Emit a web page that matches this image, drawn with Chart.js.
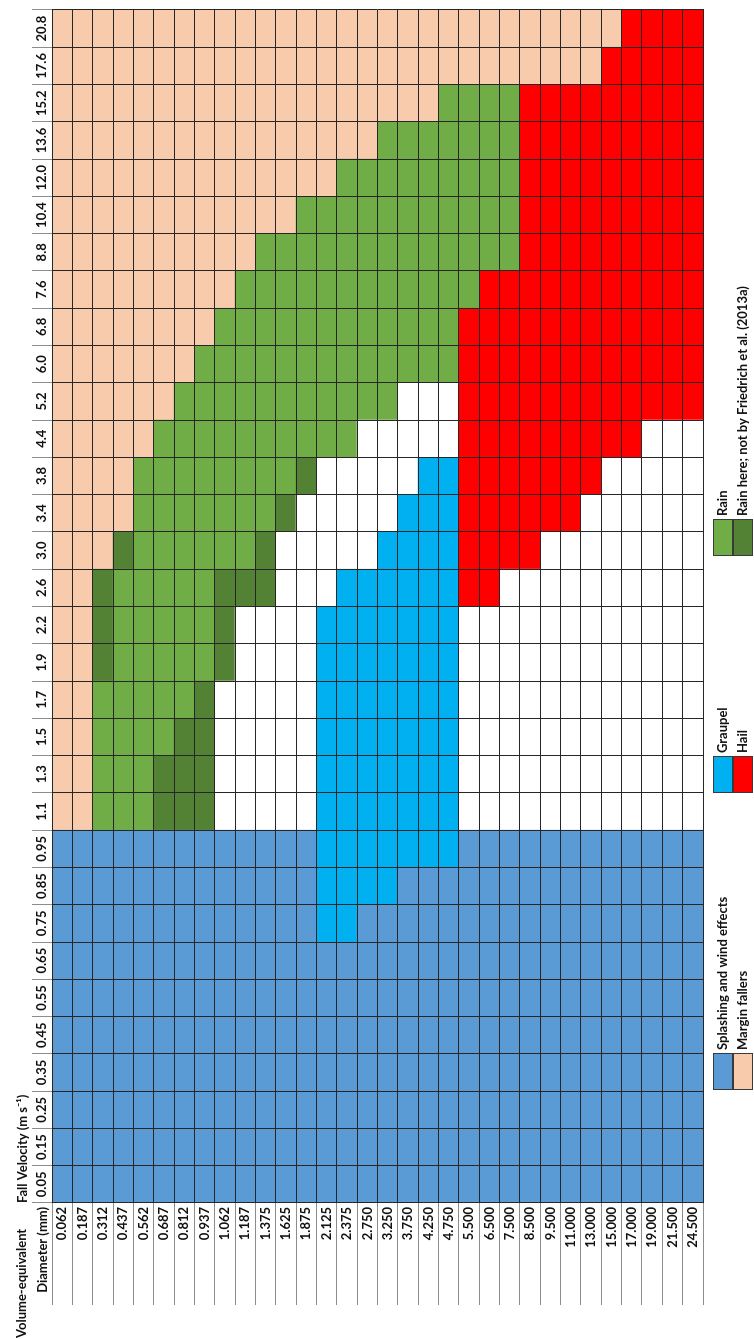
<!DOCTYPE html>
<html>
<head>
<meta charset="utf-8">
<title>Hydrometeor classes by diameter and fall velocity</title>
<script src="https://cdn.jsdelivr.net/npm/chart.js@4.4.1/dist/chart.umd.min.js"></script>
<style>
  html, body { margin: 0; padding: 0; background: #fff; overflow: hidden; }
  /* the table is drawn in landscape and turned a quarter turn, like the figure */
  #wrap {
    position: absolute; left: 0; top: 0;
    width: 1339px; height: 754px;
    transform-origin: 0 0;
    transform: translateY(1339px) rotate(-90deg);
  }
</style>
</head>
<body>
<div id="wrap"><canvas id="classChart" width="1339" height="754"></canvas></div>
<script>
// Volume-equivalent diameter classes (mm)
const diameterLabels = ['0.062', '0.187', '0.312', '0.437', '0.562', '0.687', '0.812', '0.937',
    '1.062', '1.187', '1.375', '1.625', '1.875', '2.125', '2.375', '2.750', '3.250', '3.750',
    '4.250', '4.750', '5.500', '6.500', '7.500', '8.500', '9.500', '11.000', '13.000', '15.000',
    '17.000', '19.000', '21.500', '24.500'];

// Fall velocity classes (m s-1)
const velocityLabels = ['0.05', '0.15', '0.25', '0.35', '0.45', '0.55', '0.65', '0.75', '0.85',
    '0.95', '1.1', '1.3', '1.5', '1.7', '1.9', '2.2', '2.6', '3.0', '3.4', '3.8', '4.4', '5.2',
    '6.0', '6.8', '7.6', '8.8', '10.4', '12.0', '13.6', '15.2', '17.6', '20.8'];

// One row per velocity class (0.05 first), one letter per diameter class
// B splashing/wind, P margin fallers, L graupel, R hail, G rain, D rain here only, W none
const cellClass = [
    'BBBBBBBBBBBBBBBBBBBBBBBBBBBBBBBB', // 0.05
    'BBBBBBBBBBBBBBBBBBBBBBBBBBBBBBBB', // 0.15
    'BBBBBBBBBBBBBBBBBBBBBBBBBBBBBBBB', // 0.25
    'BBBBBBBBBBBBBBBBBBBBBBBBBBBBBBBB', // 0.35
    'BBBBBBBBBBBBBBBBBBBBBBBBBBBBBBBB', // 0.45
    'BBBBBBBBBBBBBBBBBBBBBBBBBBBBBBBB', // 0.55
    'BBBBBBBBBBBBBBBBBBBBBBBBBBBBBBBB', // 0.65
    'BBBBBBBBBBBBBLLBBBBBBBBBBBBBBBBB', // 0.75
    'BBBBBBBBBBBBBLLLLBBBBBBBBBBBBBBB', // 0.85
    'BBBBBBBBBBBBBLLLLLLLBBBBBBBBBBBB', // 0.95
    'PPGGGDDDWWWWWLLLLLLLWWWWWWWWWWWW', // 1.1
    'PPGGGDDDWWWWWLLLLLLLWWWWWWWWWWWW', // 1.3
    'PPGGGGDDWWWWWLLLLLLLWWWWWWWWWWWW', // 1.5
    'PPGGGGGDWWWWWLLLLLLLWWWWWWWWWWWW', // 1.7
    'PPDGGGGGDWWWWLLLLLLLWWWWWWWWWWWW', // 1.9
    'PPDGGGGGDWWWWLLLLLLLWWWWWWWWWWWW', // 2.2
    'PPDGGGGGDDDWWWLLLLLLRRWWWWWWWWWW', // 2.6
    'PPPDGGGGGGDWWWWWLLLLRRRRWWWWWWWW', // 3.0
    'PPPPGGGGGGGDWWWWWLLLRRRRRRWWWWWW', // 3.4
    'PPPPGGGGGGGGDWWWWWLLRRRRRRRWWWWW', // 3.8
    'PPPPPGGGGGGGGGGWWWWWRRRRRRRRRWWW', // 4.4
    'PPPPPPGGGGGGGGGGGWWWRRRRRRRRRRRR', // 5.2
    'PPPPPPPGGGGGGGGGGGGGRRRRRRRRRRRR', // 6.0
    'PPPPPPPPGGGGGGGGGGGGRRRRRRRRRRRR', // 6.8
    'PPPPPPPPPGGGGGGGGGGGGRRRRRRRRRRR', // 7.6
    'PPPPPPPPPPGGGGGGGGGGGGGRRRRRRRRR', // 8.8
    'PPPPPPPPPPPPGGGGGGGGGGGRRRRRRRRR', // 10.4
    'PPPPPPPPPPPPPPGGGGGGGGGRRRRRRRRR', // 12.0
    'PPPPPPPPPPPPPPPPGGGGGGGRRRRRRRRR', // 13.6
    'PPPPPPPPPPPPPPPPPPPGGGGRRRRRRRRR', // 15.2
    'PPPPPPPPPPPPPPPPPPPPPPPPPPPRRRRR', // 17.6
    'PPPPPPPPPPPPPPPPPPPPPPPPPPPPRRRR'  // 20.8
];

const legendLabels = ['Splashing and wind effects', 'Margin fallers', 'Graupel', 'Hail',
    'Rain', 'Rain here; not by Friedrich et al. (2013a)'];
const legendKeys = ['B', 'P', 'L', 'R', 'G', 'D'];

const classColors = {
    B: '#5b9bd5',
    P: '#f8cbad',
    L: '#00b0f0',
    R: '#ff0000',
    G: '#70ad47',
    D: '#548235',
    W: '#ffffff'
};

const textColor = '#111111';
const cellLine = '#262626';
const headLine = '#8c8c8c';
const labelFont = { family: 'Lato', weight: 'bold', size: 13 };

// header texts and the legend below the table
const tableText = {
    id: 'tableText',
    afterDraw(chart) {
        const ctx = chart.ctx;
        const legendX = [249, 546, 783];
        ctx.save();
        ctx.font = 'bold 13px Lato';
        ctx.fillStyle = textColor;
        ctx.textBaseline = 'middle';
        ctx.textAlign = 'left';
        ctx.fillText('Volume-equivalent', 1, 22);
        ctx.textAlign = 'right';
        ctx.fillText('Diameter (mm)', 132, 43);

        legendLabels.forEach(function(label, i) {
            const x = legendX[Math.floor(i / 2)];
            const y = 713 + (i % 2) * 20;
            ctx.fillStyle = classColors[legendKeys[i]];
            ctx.fillRect(x, y, 37, 20);
            ctx.strokeStyle = '#3a3a3a';
            ctx.lineWidth = 1;
            ctx.strokeRect(x + 0.5, y + 0.5, 36, 19);
            ctx.fillStyle = textColor;
            ctx.textAlign = 'left';
            ctx.fillText(label, x + 40, y + 10);
        });
        ctx.restore();
    }
};

// one stacked dataset per velocity class, one unit cell per diameter class
const datasets = velocityLabels.map(function(v, k) {
    return {
        label: v,
        data: diameterLabels.map(function() { return 1; }),
        backgroundColor: cellClass[k].split('').map(function(c) { return classColors[c]; }),
        borderWidth: 0,
        borderSkipped: false,
        barPercentage: 1,
        categoryPercentage: 1,
        xAxisID: 'x',
        yAxisID: 'y'
    };
});

new Chart(document.getElementById('classChart'), {
    type: 'bar',
    data: { labels: diameterLabels, datasets: datasets },
    options: {
        indexAxis: 'y',
        responsive: false,
        animation: false,
        devicePixelRatio: 1,
        layout: { padding: { left: 0, right: 10, top: 0, bottom: 51 } },
        plugins: {
            legend: { display: false },
            tooltip: { enabled: false }
        },
        scales: {
            x: {
                type: 'linear',
                stacked: true,
                min: 0,
                max: 32,
                position: 'bottom',
                z: 1,
                ticks: { display: false, stepSize: 1 },
                grid: { color: cellLine, drawTicks: false, z: 1 },
                border: { color: cellLine, z: 1 },
                afterFit: function(s) { s.height = 0; }
            },
            x2: {
                type: 'category',
                labels: velocityLabels,
                position: 'top',
                offset: true,
                z: 1,
                grid: { offset: true, drawOnChartArea: false, tickLength: 20, tickColor: headLine, z: 1 },
                border: { color: cellLine, z: 1 },
                ticks: { padding: -18, autoSkip: false, maxRotation: 0, color: textColor, font: labelFont },
                title: {
                    display: true,
                    text: 'Fall Velocity (m s\u207B\u00B9)',
                    align: 'start',
                    color: textColor,
                    font: labelFont,
                    padding: { top: 15, bottom: 0 }
                },
                afterFit: function(s) { s.height = 52; }
            },
            y: {
                type: 'category',
                stacked: true,
                position: 'left',
                offset: true,
                z: 1,
                grid: { offset: true, color: cellLine, tickColor: headLine, tickLength: 102, z: 1 },
                border: { color: cellLine, z: 1 },
                ticks: { padding: -98, autoSkip: false, color: textColor, font: labelFont },
                afterFit: function(s) { s.width = 136; }
            }
        }
    },
    plugins: [tableText]
});
</script>
</body>
</html>
